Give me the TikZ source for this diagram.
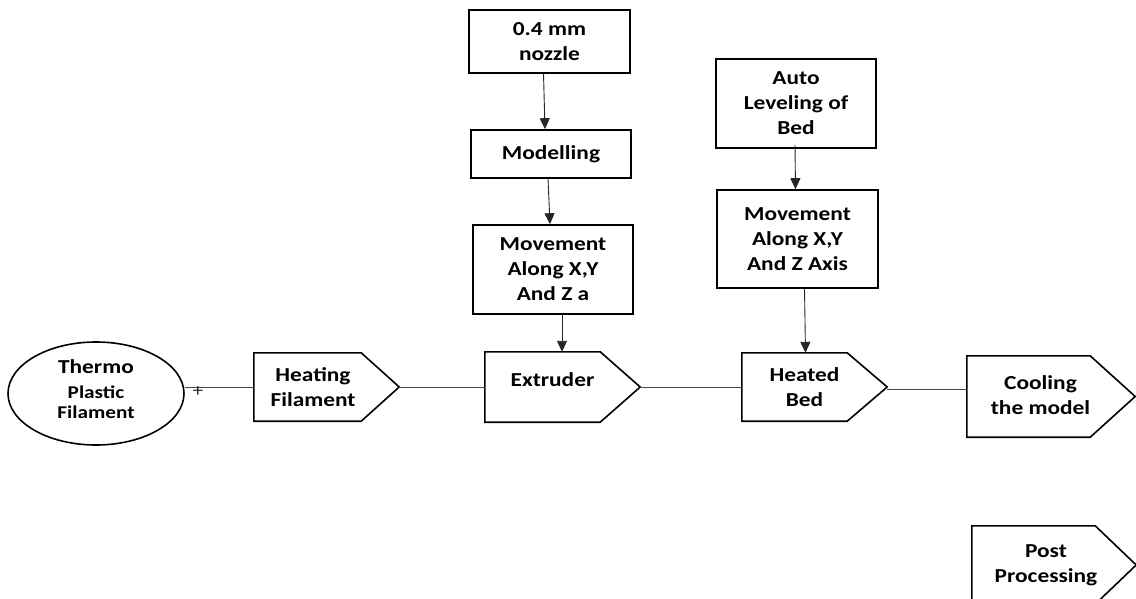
\documentclass[tikz,border=0pt]{standalone}
\usepackage{fontspec}
\setmainfont{Carlito}[FakeStretch=1.18]
\usetikzlibrary{arrows.meta,shapes.geometric}
\tikzset{
  box/.style={draw, line width=1.6pt, align=center, inner sep=0pt},
  pentbody/.style={draw=none, inner sep=0pt},
  outl/.style={draw, line width=1.6pt, line join=miter},
  conn/.style={draw=black!72, line width=0.9pt},
  arr/.style={draw=black!85, line width=0.9pt, -{Triangle[length=11pt,width=10pt]}},
  txt/.style={font=\bfseries\fontsize{19.8}{25}\selectfont},
  ptxt/.style={txt, align=center, inner sep=0pt}
}
\begin{document}
\begin{tikzpicture}[x=1pt,y=-1pt]
\useasboundingbox (0,0) rectangle (1136,599);
\clip (0,0) rectangle (1136,599);
% upper boxes
\node[box,txt,minimum width=161pt,minimum height=63pt] (nozzle) at (549.5,41.5) {0.4 mm\\nozzle};
\node[box,txt,minimum width=160pt,minimum height=48pt] (model) at (551,154) {Modelling};
\node[box,txt,minimum width=160pt,minimum height=89pt] (mov1) at (553,269.5) {Movement\\Along X,Y\\And Z a};
\node[box,txt,minimum width=160pt,minimum height=89pt] (auto) at (796,103.5) {Auto\\Leveling of\\Bed};
\node[box,txt,minimum width=161pt,minimum height=98pt] (mov2) at (797.5,239) {Movement\\Along X,Y\\And Z Axis};
% ellipse
\node[draw, ellipse, line width=1.6pt, minimum width=176pt, minimum height=103pt, inner sep=0pt,
      label={[align=center, inner sep=0pt, yshift=4.5pt, font=\bfseries\fontsize{18}{20}\selectfont]center:{{\fontsize{19.8}{25}\selectfont Thermo}\\[5pt]Plastic\\Filament}}]
      (thermo) at (96,393.5) {};
% pentagon bodies
\node[pentbody,minimum width=107pt,minimum height=68pt,
      label={[ptxt,xshift=5.5pt]center:{Heating\\Filament}}] (heat) at (307.5,387) {};
\node[pentbody,minimum width=115pt,minimum height=70pt,
      label={[ptxt,xshift=10pt,yshift=7pt]center:{Extruder}}] (extr) at (542.5,387) {};
\node[pentbody,minimum width=105pt,minimum height=68pt,
      label={[ptxt,xshift=10pt]center:{Heated\\Bed}}] (bed) at (794.5,387) {};
\node[pentbody,minimum width=123pt,minimum height=81pt,
      label={[ptxt,xshift=12pt,yshift=1.5pt]center:{Cooling\\the model}}] (cool) at (1028.5,396.5) {};
\node[pentbody,minimum width=123pt,minimum height=78pt,
      label={[ptxt,xshift=12.5pt]center:{Post\\Processing}}] (post) at (1033.5,565) {};
% pentagon outlines
\draw[outl] (heat.north west) -- (heat.north east) -- ([xshift=38pt]heat.east) coordinate (heattip) -- (heat.south east) -- (heat.south west) -- cycle;
\draw[outl] (extr.north west) -- (extr.north east) -- ([xshift=40pt]extr.east) coordinate (extrtip) -- (extr.south east) -- (extr.south west) -- cycle;
\draw[outl] (bed.north west) -- (bed.north east) -- ([xshift=40pt]bed.east) coordinate (bedtip) -- (bed.south east) -- (bed.south west) -- cycle;
\draw[outl] (cool.north west) -- (cool.north east) -- ([xshift=45pt]cool.east) coordinate (cooltip) -- (cool.south east) -- (cool.south west) -- cycle;
\draw[outl] (post.north west) -- (post.north east) -- ([xshift=41pt]post.east) coordinate (posttip) -- (post.south east) -- (post.south west) -- cycle;
% vertical arrows
\draw[arr] ([xshift=-6pt]nozzle.south) -- ([xshift=-6pt]model.north);
\draw[arr] ([xshift=-3pt]model.south) -- ([xshift=-3pt]mov1.north);
\draw[arr] ([xshift=9pt]mov1.south) -- ([xshift=9pt]mov1.south |- extr.north);
\draw[arr] ([xshift=-1pt,yshift=4pt]auto.south) -- ([xshift=-2pt]mov2.north);
\draw[arr] ([xshift=7pt]mov2.south) -- ([xshift=11pt]bed.north);
% horizontal connectors
\draw[conn] (thermo.east |- heat.west) -- (heat.west)
   node[pos=0.19, yshift=-5pt, inner sep=0pt, font=\fontsize{18}{18}\selectfont, text=black!85] {+};
\draw[conn] (heattip) -- (extr.west);
\draw[conn] (extrtip) -- (bed.west);
\draw[conn] ([yshift=-2pt]bedtip) -- ([yshift=-2pt]bedtip -| cool.west);
\end{tikzpicture}
\end{document}
